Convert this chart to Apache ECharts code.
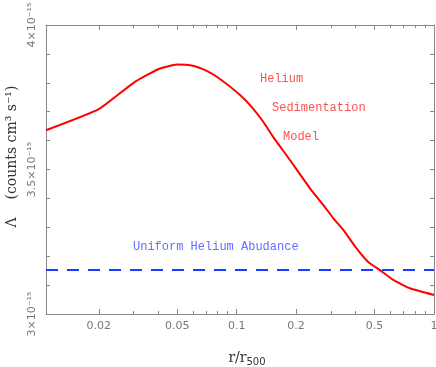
<!DOCTYPE html>
<html>
<head>
<meta charset="utf-8">
<script src="https://cdn.jsdelivr.net/npm/echarts@6/dist/echarts.min.js"></script>
<style>
  html, body { margin: 0; padding: 0; background: #fff; }
  #chart { width: 436px; height: 367px; }
</style>
</head>
<body>
<div id="chart"></div>
<script>
// radius r/r500 and cooling function (units of 1e-15 counts cm^3 s^-1)
const radius = [0.0108, 0.02, 0.03, 0.04, 0.05, 0.06, 0.07, 0.08, 0.104, 0.119, 0.136, 0.153, 0.186, 0.235, 0.275, 0.309, 0.347, 0.406, 0.464, 0.532, 0.622, 0.755, 1.0]
const lambdaSed = [3.636, 3.709, 3.800, 3.847, 3.863, 3.859, 3.842, 3.819, 3.758, 3.717, 3.666, 3.613, 3.533, 3.435, 3.377, 3.331, 3.291, 3.226, 3.180, 3.152, 3.118, 3.089, 3.066]
const lambdaUniform = 3.152

const xMajorTicks = [0.02, 0.05, 0.1, 0.2, 0.5, 1]
const xAllTicks = [0.02, 0.03, 0.04, 0.05, 0.06, 0.07, 0.08, 0.09, 0.1, 0.2, 0.3, 0.4, 0.5, 0.6, 0.7, 0.8, 0.9, 1]
const yLabels = [3, 3.5, 4]

const sup = { '0': '⁰', '1': '¹', '2': '²', '3': '³', '4': '⁴', '5': '⁵', '6': '⁶', '7': '⁷', '8': '⁸', '9': '⁹', '-': '⁻' }
const toSup = s => s.split('').map(c => sup[c]).join('')

const chart = echarts.init(document.getElementById('chart'))

const axisColor = '#888'
const labelColor = '#777'
const yMin = 3
const yMax = 4

const xBase = {
  type: 'log',
  min: 0.0108,
  max: 1,
  logBase: 10,
  splitLine: { show: false },
  axisLine: { show: true, lineStyle: { color: axisColor, width: 1 } },
  axisLabel: { show: false }
}

// minor ticks on the axis line, major ticks on a second axis with no line
const tickAxis = (pos, values, len, withLine) => Object.assign({}, xBase, {
  position: pos,
  axisLine: { show: withLine, lineStyle: { color: axisColor, width: 1 } },
  axisTick: { show: true, inside: true, length: len, customValues: values, lineStyle: { color: axisColor } }
})

const option = {
  animation: false,
  grid: { left: 46, right: 2, top: 25, bottom: 53, containLabel: false, outerBoundsMode: 'none' },
  xAxis: [
    Object.assign(tickAxis('bottom', xAllTicks, 3, true), {
      axisLabel: {
        customValues: xMajorTicks,
        color: labelColor,
        fontFamily: 'DejaVu Sans',
        fontSize: 11,
        margin: 7,
        formatter: v => String(+v.toPrecision(3))
      },
      name: '{a|r/r}{b|500}',
      nameLocation: 'middle',
      nameGap: 35,
      nameTextStyle: {
        padding: [0, 0, 0, 14],
        rich: {
          a: { fontFamily: 'DejaVu Serif', fontSize: 14, color: '#333', lineHeight: 18 },
          b: { fontFamily: 'DejaVu Sans', fontSize: 10, color: '#333', verticalAlign: 'bottom', padding: [8, 0, 0, 0] }
        }
      }
    }),
    tickAxis('bottom', xMajorTicks, 5, false),
    tickAxis('top', xAllTicks, 3, true),
    tickAxis('top', xMajorTicks, 5, false)
  ],
  yAxis: [
    {
      type: 'value',
      min: yMin,
      max: yMax,
      interval: 0.1,
      position: 'left',
      splitLine: { show: false },
      axisLine: { show: true, lineStyle: { color: axisColor } },
      axisTick: { inside: true, length: 4, lineStyle: { color: axisColor } },
      axisLabel: {
        rotate: 90,
        color: labelColor,
        fontFamily: 'DejaVu Sans',
        fontSize: 11,
        margin: 8,
        formatter: v => {
          const hit = yLabels.find(l => Math.abs(l - v) < 1e-6)
          return hit === undefined ? '' : hit + '×10' + toSup('-15')
        }
      },
      name: 'Λ    (counts cm' + toSup('3') + ' s' + toSup('-1') + ')',
      nameLocation: 'middle',
      nameGap: 26,
      nameTextStyle: { fontFamily: 'DejaVu Serif', fontSize: 14, color: '#333', padding: [0, 0, 0, 26] }
    },
    {
      type: 'value',
      min: yMin,
      max: yMax,
      interval: 0.1,
      position: 'right',
      splitLine: { show: false },
      axisLine: { show: true, lineStyle: { color: axisColor } },
      axisTick: { inside: true, length: 4, lineStyle: { color: axisColor } },
      axisLabel: { show: false }
    }
  ],
  series: [
    {
      name: 'Helium Sedimentation Model',
      type: 'line',
      data: radius.map((r, i) => [r, lambdaSed[i]]),
      showSymbol: false,
      smooth: 0.15,
      lineStyle: { color: '#ff0000', width: 2 },
      z: 3
    },
    {
      name: 'Uniform Helium Abudance',
      type: 'line',
      data: [[0.0108, lambdaUniform], [1, lambdaUniform]],
      showSymbol: false,
      lineStyle: { color: '#1a3cff', width: 2, type: [12, 9] },
      z: 2
    }
  ],
  graphic: [
    { type: 'text', left: 260, top: 73, style: { text: 'Helium', font: '12px "Liberation Mono"', fill: '#ff5050' } },
    { type: 'text', left: 272, top: 102, style: { text: 'Sedimentation', font: '12px "Liberation Mono"', fill: '#ff5050' } },
    { type: 'text', left: 283, top: 131, style: { text: 'Model', font: '12px "Liberation Mono"', fill: '#ff5050' } },
    { type: 'text', left: 133, top: 241, style: { text: 'Uniform Helium Abudance', font: '12px "Liberation Mono"', fill: '#6070ff' } }
  ]
}

chart.setOption(option)
</script>
</body>
</html>
